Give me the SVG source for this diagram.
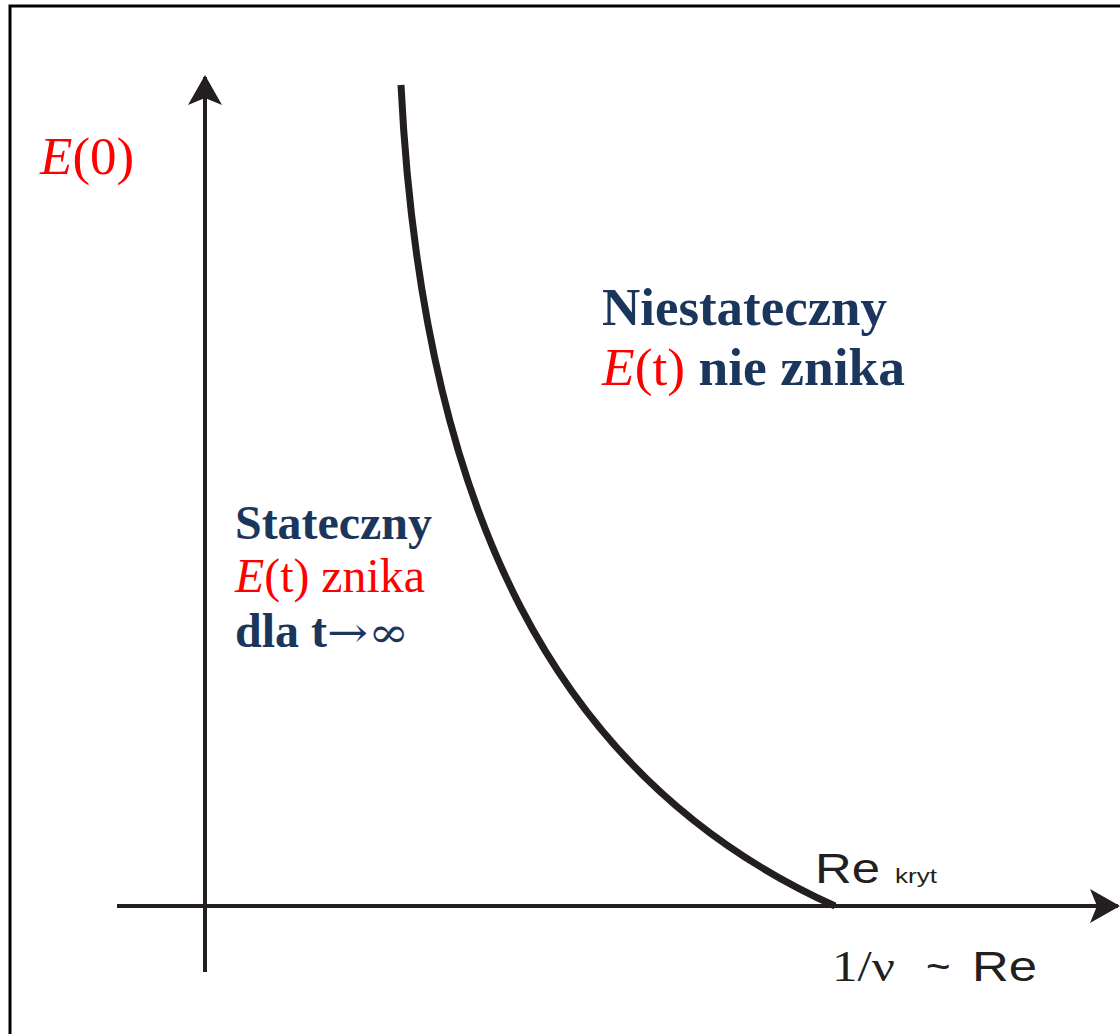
<svg xmlns="http://www.w3.org/2000/svg" width="1120" height="1034" viewBox="0 0 1120 1034">
<style>
.ax{stroke:#231f20;stroke-width:4;fill:none}
.serif{font-family:"Liberation Serif","Times New Roman",serif}
.sans{font-family:"Liberation Sans",Arial,sans-serif;fill:#231f20}
.navy{fill:#1b365d;font-weight:bold}
.red{fill:#ff0000}
.sym{font-family:"DejaVu Serif",serif;font-weight:normal}
</style>
<defs>
<marker id="arr" viewBox="0 0 30 34" refX="28" refY="17" markerWidth="30" markerHeight="34" markerUnits="userSpaceOnUse" orient="auto">
<path d="M0,0 L30,17 L0,34 L7,17 Z" fill="#231f20"/>
</marker>
</defs>
<rect x="0" y="0" width="1120" height="1034" fill="#fff"/>
<rect x="10" y="6" width="1200" height="1100" fill="none" stroke="#000" stroke-width="3"/>
<g id="connectors">
<line class="ax" x1="205" y1="972" x2="205" y2="77" marker-end="url(#arr)"/>
<line class="ax" x1="117" y1="906" x2="1118" y2="906" marker-end="url(#arr)"/>
<path id="curve" d="M401,85 C422,510 555,780 835,906" fill="none" stroke="#231f20" stroke-width="7"/>
</g>
<g id="label-E0"><text class="serif red" x="40" y="174" font-size="53"><tspan font-style="italic">E</tspan>(0)</text></g>
<g id="label-niestateczny">
<text class="serif navy" x="602" y="325" font-size="52" textLength="285" lengthAdjust="spacingAndGlyphs">Niestateczny</text>
<text class="serif" x="602" y="385" font-size="52" textLength="303" lengthAdjust="spacingAndGlyphs"><tspan class="red" font-style="italic">E</tspan><tspan class="red">(t)</tspan><tspan class="navy"> nie znika</tspan></text>
</g>
<g id="label-stateczny">
<text class="serif navy" x="235" y="539" font-size="48" textLength="197" lengthAdjust="spacingAndGlyphs">Stateczny</text>
<text class="serif red" x="235" y="592" font-size="48" textLength="190" lengthAdjust="spacingAndGlyphs"><tspan font-style="italic">E</tspan>(t) znika</text>
<text class="serif navy" x="235" y="647" font-size="48">dla t<tspan class="sym" font-size="42" textLength="82" lengthAdjust="spacingAndGlyphs">→∞</tspan></text>
</g>
<g id="label-rekryt">
<text class="sans" x="815" y="883" font-size="43" textLength="65" lengthAdjust="spacingAndGlyphs">Re</text>
<text class="sans" x="895" y="883" font-size="21" textLength="42" lengthAdjust="spacingAndGlyphs">kryt</text>
</g>
<g id="label-axis">
<text class="serif" fill="#231f20" x="832" y="981" font-size="44" textLength="63" lengthAdjust="spacingAndGlyphs">1/ν</text>
<text class="sans" x="926" y="981" font-size="42">~</text>
<text class="sans" x="972" y="981" font-size="43" textLength="65" lengthAdjust="spacingAndGlyphs">Re</text>
</g>
</svg>
